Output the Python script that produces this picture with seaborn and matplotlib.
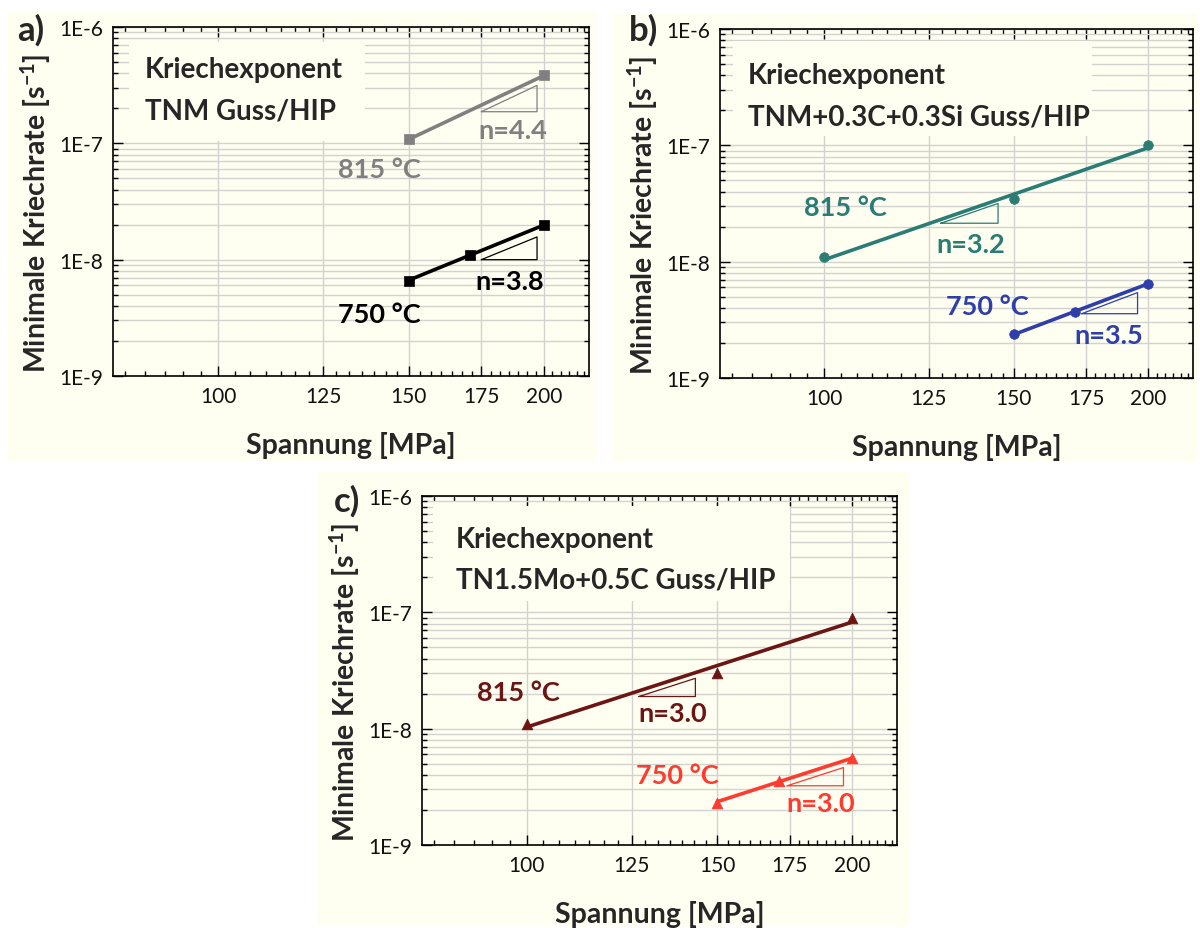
import numpy as np
import pandas as pd
import matplotlib
matplotlib.use("Agg")
import matplotlib.pyplot as plt
import seaborn as sns
from matplotlib.patches import Rectangle
from matplotlib.ticker import FixedLocator, FixedFormatter, NullFormatter

# ---- creep data: stress [MPa] vs. minimum creep rate [1/s] ----
a_815_stress = [150, 200]
a_815_rate = [1.08e-7, 3.84e-7]
a_750_stress = [150, 171, 200]
a_750_rate = [6.6e-9, 1.10e-8, 2.0e-8]

b_815_stress = [100, 150, 200]
b_815_rate = [1.09e-8, 3.46e-8, 1.0e-7]
b_750_stress = [150, 171, 200]
b_750_rate = [2.4e-9, 3.69e-9, 6.47e-9]

c_815_stress = [100, 150, 200]
c_815_rate = [1.1e-8, 3.0e-8, 9.0e-8]
c_750_stress = [150, 171, 200]
c_750_rate = [2.3e-9, 3.56e-9, 5.6e-9]

# creep exponents (slopes in the double-log plot)
a_815_n, a_750_n = 4.4, 3.8
b_815_n, b_750_n = 3.2, 3.5
c_815_n, c_750_n = 3.0, 3.0

panel_letters = ["a)", "b)", "c)"]
alloys = ["TNM Guss/HIP", "TNM+0.3C+0.3Si Guss/HIP", "TN1.5Mo+0.5C Guss/HIP"]
temperatures = ["815 °C", "750 °C"]

x_ticks = [100, 125, 150, 175, 200]
x_tick_labels = ["100", "125", "150", "175", "200"]
y_ticks = [1e-9, 1e-8, 1e-7, 1e-6]
y_tick_labels = ["1E-9", "1E-8", "1E-7", "1E-6"]

# ---- style ----
sns.set_style("ticks")
plt.rcParams["font.family"] = ["Lato", "DejaVu Sans"]
plt.rcParams["mathtext.fontset"] = "custom"
plt.rcParams["mathtext.rm"] = "Lato:bold"
plt.rcParams["mathtext.bf"] = "Lato:bold"
plt.rcParams["mathtext.it"] = "Lato:bold"

CREAM = "#FEFEF1"
GRID = "#D2D2D0"
LABEL_FS = 20.5
TEXT_FS = 20
ANNOT_FS = 19.5
TICK_FS = 15

fig = plt.figure(figsize=(12, 9.29), dpi=100)
fig.patch.set_facecolor("white")
W, H = 1200, 929


def px_rect(x0, y0, x1, y1):
    return [x0 / W, 1 - y1 / H, (x1 - x0) / W, (y1 - y0) / H]


# panel backgrounds
for (x0, y0, x1, y1) in [(8, 12, 598, 462), (612, 14, 1198, 462), (317, 473, 909, 927)]:
    fig.add_artist(Rectangle((x0 / W, 1 - y1 / H), (x1 - x0) / W, (y1 - y0) / H,
                             transform=fig.transFigure, facecolor=CREAM,
                             edgecolor="none", zorder=-10))

panels = [
    dict(ax=px_rect(113, 28, 589, 377), letter=(31, 30),
         box=(0.034, 0.673, 0.529, 0.957), txt=(0.067, 0.88, 0.76),
         series=[
             dict(s=a_815_stress, r=a_815_rate, n=a_815_n, color="#808080", marker="s", ms=48,
                  tri=(175, 197, 1.87e-7), lab=(141, 6.0e-8), nlab=(187, 1.3e-7)),
             dict(s=a_750_stress, r=a_750_rate, n=a_750_n, color="#000000", marker="s", ms=48,
                  tri=(175, 197, 1.0e-8), lab=(141, 3.43e-9), nlab=(186, 6.6e-9)),
         ]),
    dict(ax=px_rect(720, 30, 1193, 379), letter=(643, 30),
         box=(0.027, 0.693, 0.787, 0.966), txt=(0.059, 0.868, 0.75),
         series=[
             dict(s=b_815_stress, r=b_815_rate, n=b_815_n, color="#2A7C74", marker="o", ms=48,
                  tri=(128.3, 145, 2.14e-8), lab=(104.6, 2.93e-8), nlab=(136.8, 1.42e-8)),
             dict(s=b_750_stress, r=b_750_rate, n=b_750_n, color="#2F3FAA", marker="o", ms=48,
                  tri=(173.4, 195.4, 3.57e-9), lab=(141.6, 4.15e-9), nlab=(183.9, 2.33e-9)),
         ]),
    dict(ax=px_rect(422, 497, 897, 846), letter=(347, 501),
         box=(0.023, 0.70, 0.775, 0.971), txt=(0.072, 0.877, 0.762),
         series=[
             dict(s=c_815_stress, r=c_815_rate, n=c_815_n, color="#6B1515", marker="^", ms=60,
                  tri=(127, 143.2, 1.89e-8), lab=(98.2, 2.06e-8), nlab=(136.3, 1.36e-8)),
             dict(s=c_750_stress, r=c_750_rate, n=c_750_n, color="#FF3A2E", marker="^", ms=60,
                  tri=(174.1, 196.3, 3.23e-9), lab=(137.7, 3.98e-9), nlab=(187, 2.28e-9)),
         ]),
]

minor_x = [100 + k * 25 / 7 for k in range(-6, 34)]
minor_x = [v for v in minor_x if 80 < v < 220 and all(abs(v - t) > 1e-6 for t in x_ticks)]
minor_y = [m * 10.0 ** e for e in range(-9, -6) for m in range(2, 10)]

for p, letter, alloy in zip(panels, panel_letters, alloys):
    ax = fig.add_axes(p["ax"])
    ax.set_facecolor(CREAM)
    ax.set_xscale("log")
    ax.set_yscale("log")
    ax.set_axisbelow(True)

    for s, temp in zip(p["series"], temperatures):
        col = s["color"]
        stress = np.asarray(s["s"], float)
        rate = np.asarray(s["r"], float)
        # power-law line with the stated creep exponent
        A = np.mean(np.log10(rate) - s["n"] * np.log10(stress))
        fit = pd.DataFrame({"stress": [stress.min(), stress.max()]})
        fit["rate"] = 10 ** (A + s["n"] * np.log10(fit["stress"]))
        sns.lineplot(data=fit, x="stress", y="rate", ax=ax, color=col, lw=2.6, zorder=3)
        pts = pd.DataFrame({"stress": stress, "rate": rate})
        sns.scatterplot(data=pts, x="stress", y="rate", ax=ax, color=col, marker=s["marker"],
                        s=s["ms"], edgecolor=col, linewidth=0.5, zorder=4)

        # slope triangle
        x0, x1, yb = s["tri"]
        yt = yb * (x1 / x0) ** s["n"]
        ax.plot([x0, x1, x1, x0], [yb, yt, yb, yb], color=col, lw=0.9, zorder=3)

        ax.text(*s["lab"], temp, color=col, fontsize=ANNOT_FS, fontweight="bold",
                ha="center", va="center", zorder=5)
        ax.text(*s["nlab"], f"n={s['n']:.1f}", color=col, fontsize=ANNOT_FS,
                fontweight="bold", ha="center", va="center", zorder=5)

    ax.set_xlim(80, 220)
    ax.set_ylim(1e-9, 1e-6)
    ax.xaxis.set_major_locator(FixedLocator(x_ticks))
    ax.xaxis.set_major_formatter(FixedFormatter(x_tick_labels))
    ax.xaxis.set_minor_locator(FixedLocator(minor_x))
    ax.xaxis.set_minor_formatter(NullFormatter())
    ax.yaxis.set_major_locator(FixedLocator(y_ticks))
    ax.yaxis.set_major_formatter(FixedFormatter(y_tick_labels))
    ax.yaxis.set_minor_locator(FixedLocator(minor_y))
    ax.yaxis.set_minor_formatter(NullFormatter())

    ax.grid(True, which="major", axis="x", color=GRID, lw=1.0)
    ax.grid(True, which="both", axis="y", color=GRID, lw=1.0)

    ax.tick_params(which="both", direction="in", top=True, right=True,
                   color="black", width=1.0)
    ax.tick_params(which="major", length=7, labelsize=TICK_FS, pad=7, labelcolor="#111111")
    ax.tick_params(which="minor", length=3.5)
    for sp in ax.spines.values():
        sp.set_visible(True)
        sp.set_color("black")
        sp.set_linewidth(1.2)
        sp.set_zorder(6)

    # text box covering the grid
    bx0, by0, bx1, by1 = p["box"]
    ax.add_patch(Rectangle((bx0, by0), bx1 - bx0, by1 - by0, transform=ax.transAxes,
                           facecolor=CREAM, edgecolor="none", zorder=1))
    tx, ty1, ty2 = p["txt"]
    ax.text(tx, ty1, "Kriechexponent", transform=ax.transAxes, fontsize=TEXT_FS,
            fontweight="bold", va="center", ha="left", zorder=5)
    ax.text(tx, ty2, alloy, transform=ax.transAxes, fontsize=TEXT_FS,
            fontweight="bold", va="center", ha="left", zorder=5)

    ax.set_xlabel("Spannung [MPa]", fontsize=LABEL_FS, fontweight="bold", va="center")
    ax.set_ylabel("Minimale Kriechrate [s$^{-1}$]", fontsize=LABEL_FS,
                  fontweight="bold", va="center")
    ax.xaxis.set_label_coords(0.5, -0.195)
    ax.yaxis.set_label_coords(-0.163, 0.47)

    lx, ly = p["letter"]
    fig.text(lx / W, 1 - ly / H, letter, fontsize=25, fontweight="bold",
             ha="center", va="center")

fig.savefig("out.png", dpi=100, facecolor="white")
